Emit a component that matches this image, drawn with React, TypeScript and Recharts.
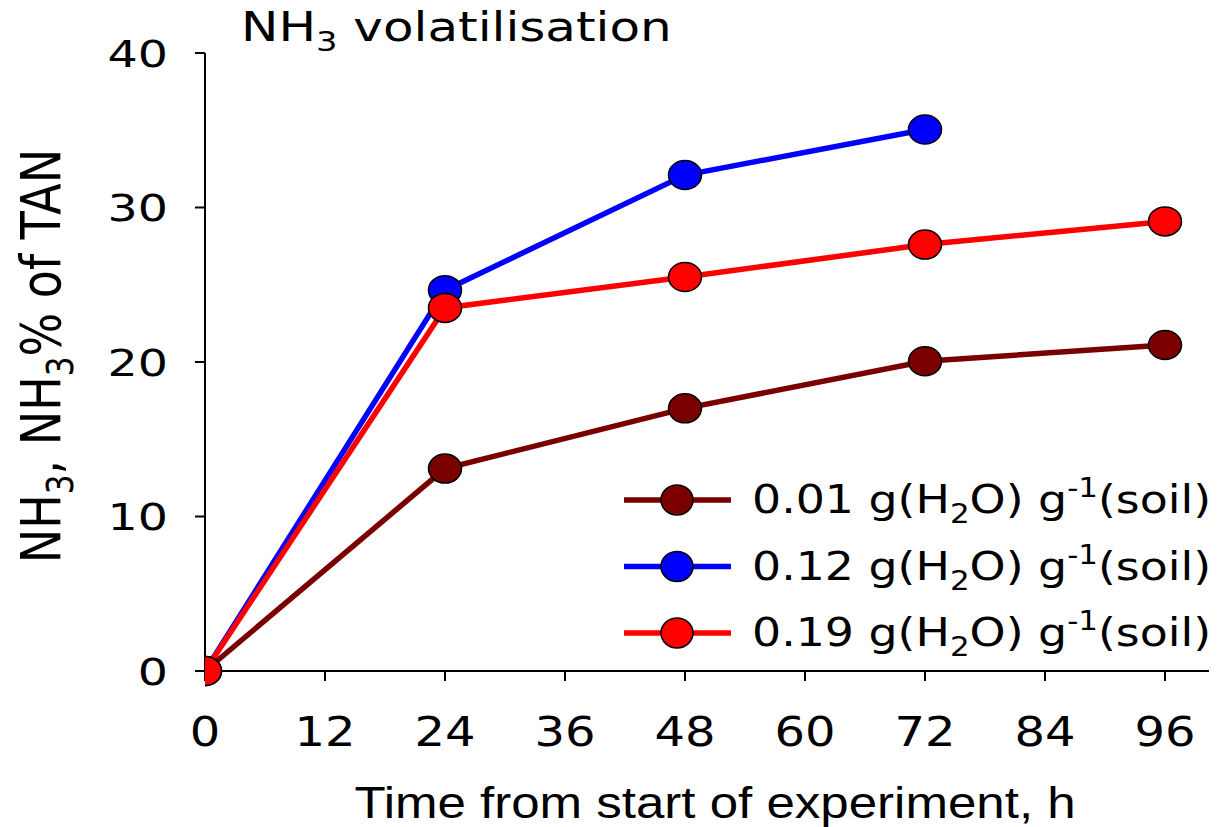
import React from 'react';
import { LineChart, Line, XAxis, YAxis } from 'recharts';

const hours = [0, 24, 48, 72, 96];
const dryValues = [0, 13.1, 17.0, 20.05, 21.1];
const midValues = [0, 24.65, 32.1, 35.05];
const wetValues = [0, 23.5, 25.5, 27.6, 29.1];
const xTicks = [0, 12, 24, 36, 48, 60, 72, 84, 96];
const yTicks = [0, 10, 20, 30, 40];
const seriesNames = ['0.01', '0.12', '0.19'];
const seriesColors = ['#7a0000', '#0000ff', '#ff0000'];
const seriesKeys = ['dry', 'mid', 'wet'];

const data = hours.map((h, i) => ({
  h,
  dry: dryValues[i],
  mid: midValues[i],
  wet: wetValues[i],
}));

const SANS = 'DejaVu Sans, Verdana, sans-serif';
const ARIAL = '"Liberation Sans", Arial, sans-serif';

const XTick = (props: any) => {
  const { x, y, payload } = props;
  return (
    <text transform={`translate(${x},${y + 65}) scale(1.2,1)`} textAnchor="middle" fontFamily={SANS} fontSize={40} fill="#000">
      {payload.value}
    </text>
  );
};

const YTick = (props: any) => {
  const { x, y, payload } = props;
  return (
    <text transform={`translate(${x},${y}) scale(1.25,1)`} dy="0.36em" textAnchor="end" fontFamily={SANS} fontSize={38} fill="#000">
      {payload.value}
    </text>
  );
};

const makeDot = (color: string) => (props: any) => {
  const { cx, cy, index } = props;
  if (cx == null || cy == null) return <g key={index} />;
  return <ellipse key={index} cx={cx} cy={cy} rx={16.5} ry={14.5} fill={color} stroke="#000" strokeWidth={1.5} />;
};

export default function App() {
  return (
    <div style={{ position: 'relative', width: 1217, height: 827, margin: '-8px 0 0 -8px', background: '#fff' }}>
      <LineChart width={1217} height={827} data={data} margin={{ top: 53, right: 0, bottom: 0, left: 0 }}>
        <XAxis
          dataKey="h"
          type="number"
          domain={[0, 101.2]}
          ticks={xTicks}
          allowDataOverflow
          tickSize={10}
          tickMargin={0}
          stroke="#000"
          strokeWidth={2}
          tick={<XTick />}
          height={156}
        />
        <YAxis
          type="number"
          domain={[0, 40]}
          ticks={yTicks}
          tickSize={10}
          tickMargin={27}
          width={205}
          stroke="#000"
          strokeWidth={2}
          tick={<YTick />}
        />
        {seriesKeys.map((k, i) => (
          <Line
            key={k}
            dataKey={k}
            stroke={seriesColors[i]}
            strokeWidth={5.5}
            isAnimationActive={false}
            connectNulls={false}
            dot={makeDot(seriesColors[i])}
          />
        ))}
      </LineChart>
      <svg width={1217} height={827} style={{ position: 'absolute', left: 0, top: 0, pointerEvents: 'none' }}>
        <text transform="translate(241,41) scale(1.25,1)" fontFamily={SANS} fontSize={40} fill="#000">
          NH<tspan fontSize={27} dy={10}>3</tspan>
          <tspan dy={-10}> volatilisation</tspan>
        </text>
        <text transform="translate(60,356) scale(1.2,1) rotate(-90)" textAnchor="middle" fontFamily={SANS} fontSize={46} fill="#000">
          NH<tspan fontSize={31} dy={11}>3</tspan>
          <tspan dy={-11}>, NH</tspan>
          <tspan fontSize={31} dy={11}>3</tspan>
          <tspan dy={-11}>% of TAN</tspan>
        </text>
        <text transform="translate(715,818) scale(1.16,1)" textAnchor="middle" fontFamily={ARIAL} fontSize={44} fill="#000">
          Time from start of experiment, h
        </text>
        {seriesNames.map((n, i) => {
          const cy = 500 + i * 66.5;
          return (
            <g key={n}>
              <line x1={624} x2={731} y1={cy} y2={cy} stroke={seriesColors[i]} strokeWidth={5.5} />
              <ellipse cx={677} cy={cy} rx={16} ry={15} fill={seriesColors[i]} stroke="#000" strokeWidth={1.5} />
              <text transform={`translate(752,${cy + 13}) scale(1.19,1)`} fontFamily={SANS} fontSize={38.5} fill="#000">
                {n} g(H<tspan fontSize={26} dy={10}>2</tspan>
                <tspan dy={-10}>O) g</tspan>
                <tspan fontSize={26} dy={-16}>-1</tspan>
                <tspan dy={16}>(soil)</tspan>
              </text>
            </g>
          );
        })}
      </svg>
    </div>
  );
}
